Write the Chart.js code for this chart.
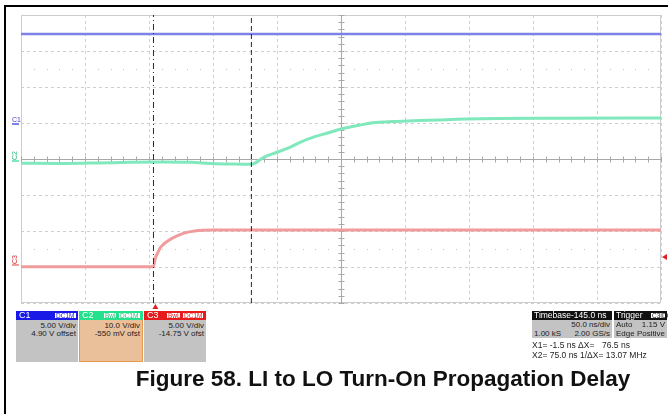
<!DOCTYPE html>
<html>
<head>
<meta charset="utf-8">
<title>LI to LO Turn-On Propagation Delay</title>
<script src="https://cdn.jsdelivr.net/npm/chart.js@4.4.1/dist/chart.umd.min.js"></script>
<style>
  body { margin: 0; background: #fff; font-family: "Liberation Sans", Arial, sans-serif; }
  #wrap { position: relative; width: 668px; height: 414px; overflow: hidden; background: #fff; }
  #scope { position: absolute; left: 0; top: 0; }
  .edge-top { position: absolute; left: 4px; top: 5px; width: 664px; height: 2px; background: #000; }
  .edge-left { position: absolute; left: 4px; top: 5px; width: 2px; height: 409px; background: #000; }
  .gnd { position: absolute; font-size: 7px; line-height: 7px; }
  .gnd-line { position: absolute; height: 2px; width: 7px; left: 12px; }
  .box { position: absolute; top: 311px; height: 51px; background: #c3c3c3; font-size: 8px; color: #222; box-sizing: border-box; }
  .hdr { position: relative; height: 9px; line-height: 9px; color: #fff; padding-left: 3px; font-size: 9px; }
  .tag { position: absolute; top: 1px; height: 7px; line-height: 6px; font-size: 6.5px; background: #fff; padding: 0 1px; box-sizing: border-box; }
  .row { text-align: right; padding-right: 2px; line-height: 8.5px; }
  .rows { padding-top: 1.5px; }
  .ph { position: absolute; top: 311px; height: 9px; line-height: 9px; background: #111; color: #fff; font-size: 8.5px; }
  .pb { position: absolute; top: 320px; height: 18px; background: #c3c3c3; font-size: 8px; line-height: 8.5px; color: #222; }
  .l { position: absolute; left: 2px; }
  .r { position: absolute; right: 2px; }
  .xrow { position: absolute; left: 532px; font-size: 8.5px; line-height: 9px; color: #222; white-space: pre; }
  .title { position: absolute; left: 100px; width: 566px; top: 366px; text-align: center; font-weight: bold; font-size: 22.5px; color: #111; }
</style>
</head>
<body>
<div id="wrap">
  <canvas id="scope" width="668" height="414"></canvas>
  <div class="edge-top"></div>
  <div class="edge-left"></div>

  <!-- channel boxes -->
  <div class="box" style="left:16px;width:62px;">
    <div class="hdr" style="background:#1a1ae6;">C1<span class="tag" style="right:1px;width:23px;color:#1a1ae6;border:1px solid #1a1ae6;">DC1M</span></div>
    <div class="rows"><div class="row">5.00 V/div</div><div class="row">4.90 V offset</div></div>
  </div>
  <div class="box" style="left:79px;width:64px;background:#eac09a;border:1px solid #e8984a;border-top:none;">
    <div class="hdr" style="background:#25e08c;margin:0 -1px;">C2<span class="tag" style="right:26px;width:14px;color:#25c07a;border:1px solid #25e08c;">BwL</span><span class="tag" style="right:2px;width:23px;color:#25c07a;border:1px solid #25e08c;">DC1M</span></div>
    <div class="rows"><div class="row">10.0 V/div</div><div class="row">-550 mV ofst</div></div>
  </div>
  <div class="box" style="left:144px;width:62px;">
    <div class="hdr" style="background:#e61c1c;">C3<span class="tag" style="right:25px;width:15px;color:#e61c1c;border:1px solid #e61c1c;">BwL</span><span class="tag" style="right:2px;width:22px;color:#e61c1c;border:1px solid #e61c1c;">DC1M</span></div>
    <div class="rows"><div class="row">5.00 V/div</div><div class="row">-14.75 V ofst</div></div>
  </div>

  <!-- timebase / trigger panel -->
  <div class="ph" style="left:532px;width:80px;padding-left:2px;box-sizing:border-box;">Timebase-145.0 ns</div>
  <div class="ph" style="left:614px;width:53px;padding-left:2px;box-sizing:border-box;">Trigger<span class="tag" style="right:1px;width:16px;color:#111;border:1px solid #111;">C3|DC</span></div>
  <div class="pb" style="left:532px;width:80px;">
    <span class="r" style="top:1px;">50.0 ns/div</span>
    <span class="l" style="top:9.5px;">1.00 kS</span><span class="r" style="top:9.5px;">2.00 GS/s</span>
  </div>
  <div class="pb" style="left:614px;width:53px;">
    <span class="l" style="top:1px;">Auto</span><span class="r" style="top:1px;">1.15 V</span>
    <span class="l" style="top:9.5px;">Edge</span><span class="r" style="top:9.5px;">Positive</span>
  </div>
  <div class="xrow" style="top:341px;">X1= -1.5 ns ΔX=</div>
  <div class="xrow" style="top:341px;left:602px;">76.5 ns</div>
  <div class="xrow" style="top:351px;">X2= 75.0 ns 1/ΔX= 13.07 MHz</div>

  <div class="title">Figure 58. LI to LO Turn-On Propagation Delay</div>
</div>

<script>
// time base: 50 ns/div, 10 divisions, left edge of screen at -105 ns
const timePerDiv = 50;
const timeLeft = -105;
const divsX = 10;
const divsY = 8;

// channel settings (V/div, offset in V)
const voltsPerDiv = [5, 10, 5];
const offsetVolts = [4.90, -0.55, -14.75];
const chColors = ['#7c82e8', '#80e8bd', '#f09c9c'];
const chNames = ['C1', 'C2', 'C3'];

// C1 - supply rail
const timeC1 = [-105, -60, -20, 40, 100, 160, 220, 280, 330, 395];
const voltsC1 = [12.45, 12.45, 12.45, 12.45, 12.45, 12.45, 12.45, 12.45, 12.45, 12.45];

// C2 - LO output
const timeC2 = [-105, -75, -45, -20, 5, 28, 43, 58, 75, 85, 95, 105, 113, 124, 134, 145, 160, 170, 185, 197, 220, 254, 316, 395];
const voltsC2 = [-0.64, -0.7, -0.56, -0.36, -0.28, -0.36, -0.7, -0.83, -0.92, 1.1, 2.42, 3.8, 5.2, 6.7, 7.7, 8.9, 10.0, 10.6, 10.95, 11.1, 11.4, 11.75, 11.86, 11.94];

// C3 - LI input
const timeC3 = [-105, -60, -20, -1.5, 0, 1.5, 3.6, 6, 8.8, 14, 21.8, 32, 45, 80, 150, 250, 395];
const voltsC3 = [-0.2, -0.22, -0.2, -0.2, 1.0, 1.6, 2.35, 2.85, 3.26, 3.82, 4.43, 4.79, 4.89, 4.9, 4.9, 4.9, 4.9];

// cursors and trigger
const cursorTimes = [-1.5, 75.0];
const trigTime = 0;
const trigLevel = 1.15;

const xGrid = Array.from({ length: divsX + 1 }, (_, i) => timeLeft + i * timePerDiv);
const pts = (ts, vs) => ts.map((t, i) => ({ x: t, y: vs[i] }));

function chAxis(i) {
    return {
        display: false,
        min: -divsY / 2 * voltsPerDiv[i] - offsetVolts[i],
        max: divsY / 2 * voltsPerDiv[i] - offsetVolts[i]
    };
}

const graticule = {
    id: 'graticule',
    beforeDatasetsDraw(chart) {
        const { ctx, chartArea: a, scales: { x, y } } = chart;
        ctx.save();
        ctx.lineWidth = 1;
        ctx.strokeStyle = '#cdcdcd';
        ctx.strokeRect(a.left + 0.5, a.top + 0.5, a.right - a.left - 1, a.bottom - a.top - 1);

        // center axes with minor ticks
        const cx = Math.round(x.getPixelForValue(timeLeft + timePerDiv * divsX / 2)) + 0.5;
        const cy = Math.round(y.getPixelForValue(0)) + 0.5;
        ctx.strokeStyle = '#a8a8a8';
        ctx.beginPath();
        ctx.moveTo(a.left, cy); ctx.lineTo(a.right, cy);
        ctx.moveTo(cx, a.top); ctx.lineTo(cx, a.bottom);
        for (let k = 0; k <= divsX * 5; k++) {
            const px = Math.round(x.getPixelForValue(timeLeft + k * timePerDiv / 5)) + 0.5;
            ctx.moveTo(px, cy - 3); ctx.lineTo(px, cy + 3);
        }
        for (let k = 0; k <= divsY * 5; k++) {
            const py = Math.round(y.getPixelForValue(-divsY / 2 + k / 5)) + 0.5;
            ctx.moveTo(cx - 3, py); ctx.lineTo(cx + 3, py);
        }
        ctx.stroke();

        // faint dot rows
        ctx.fillStyle = '#c2c2c2';
        [2.5, -2.5].forEach(d => {
            const py = Math.round(y.getPixelForValue(d));
            for (let k = 1; k < divsX * 5; k++) {
                if (k % 5 === 0) continue;
                const px = Math.round(x.getPixelForValue(timeLeft + k * timePerDiv / 5));
                ctx.fillRect(px, py, 1, 1);
            }
        });
        ctx.restore();
    },
    afterDatasetsDraw(chart) {
        const { ctx, chartArea: a, scales: { x, y3 } } = chart;
        const tx = x.getPixelForValue(trigTime);
        const ty = y3.getPixelForValue(trigLevel);
        ctx.save();
        ctx.fillStyle = '#e02020';
        ctx.beginPath();
        ctx.moveTo(tx, a.bottom + 1); ctx.lineTo(tx - 3, a.bottom + 6); ctx.lineTo(tx + 3, a.bottom + 6);
        ctx.closePath(); ctx.fill();
        ctx.beginPath();
        ctx.moveTo(a.right + 1, ty); ctx.lineTo(a.right + 6, ty - 3); ctx.lineTo(a.right + 6, ty + 3);
        ctx.closePath(); ctx.fill();
        ctx.restore();
    }
};

const cursorSets = cursorTimes.map((t, i) => ({
    data: [{ x: t, y: -divsY / 2 }, { x: t, y: divsY / 2 }],
    yAxisID: 'y',
    borderColor: '#2a2a2a',
    borderWidth: 1,
    borderDash: i === 0 ? [6, 3, 1, 3] : [5, 3],
    pointRadius: 0
}));

const traceSets = [timeC1, timeC2, timeC3].map((ts, i) => ({
    label: chNames[i],
    data: pts(ts, [voltsC1, voltsC2, voltsC3][i]),
    yAxisID: 'y' + (i + 1),
    borderColor: chColors[i],
    borderWidth: i === 0 ? 2.5 : 3,
    pointRadius: 0,
    cubicInterpolationMode: 'monotone'
}));

const chart = new Chart(document.getElementById('scope'), {
    type: 'line',
    data: { datasets: [...cursorSets, ...traceSets] },
    options: {
        responsive: false,
        animation: false,
        devicePixelRatio: 1,
        layout: { padding: { left: 21, top: 15, right: 7, bottom: 111 } },
        plugins: { legend: { display: false }, tooltip: { enabled: false } },
        scales: {
            x: {
                type: 'linear',
                min: timeLeft,
                max: timeLeft + timePerDiv * divsX,
                afterBuildTicks: axis => { axis.ticks = xGrid.map(v => ({ value: v })); },
                ticks: { display: false },
                grid: { color: '#cfcfcf', drawTicks: false },
                border: { display: false, dash: [3, 3] }
            },
            y: {
                min: -divsY / 2,
                max: divsY / 2,
                ticks: { display: false, stepSize: 1 },
                grid: { color: '#cfcfcf', drawTicks: false },
                border: { display: false, dash: [3, 3] }
            },
            y1: chAxis(0),
            y2: chAxis(1),
            y3: chAxis(2)
        }
    },
    plugins: [graticule]
});

// channel ground markers on the left edge
const wrap = document.getElementById('wrap');
['y1', 'y2', 'y3'].forEach((id, i) => {
    const gy = chart.scales[id].getPixelForValue(0);
    const line = document.createElement('div');
    line.className = 'gnd-line';
    line.style.top = (gy - 1) + 'px';
    line.style.background = chColors[i];
    wrap.appendChild(line);
    const lbl = document.createElement('div');
    lbl.className = 'gnd';
    lbl.textContent = chNames[i];
    lbl.style.color = i === 0 ? '#3a40d0' : (i === 1 ? '#30c080' : '#d03030');
    if (i === 0) {
        lbl.style.left = '12px';
        lbl.style.top = (gy - 8) + 'px';
    } else {
        lbl.style.left = '10px';
        lbl.style.top = (gy - 9) + 'px';
        lbl.style.transform = 'rotate(-90deg)';
    }
    wrap.appendChild(lbl);
});
</script>
</body>
</html>
